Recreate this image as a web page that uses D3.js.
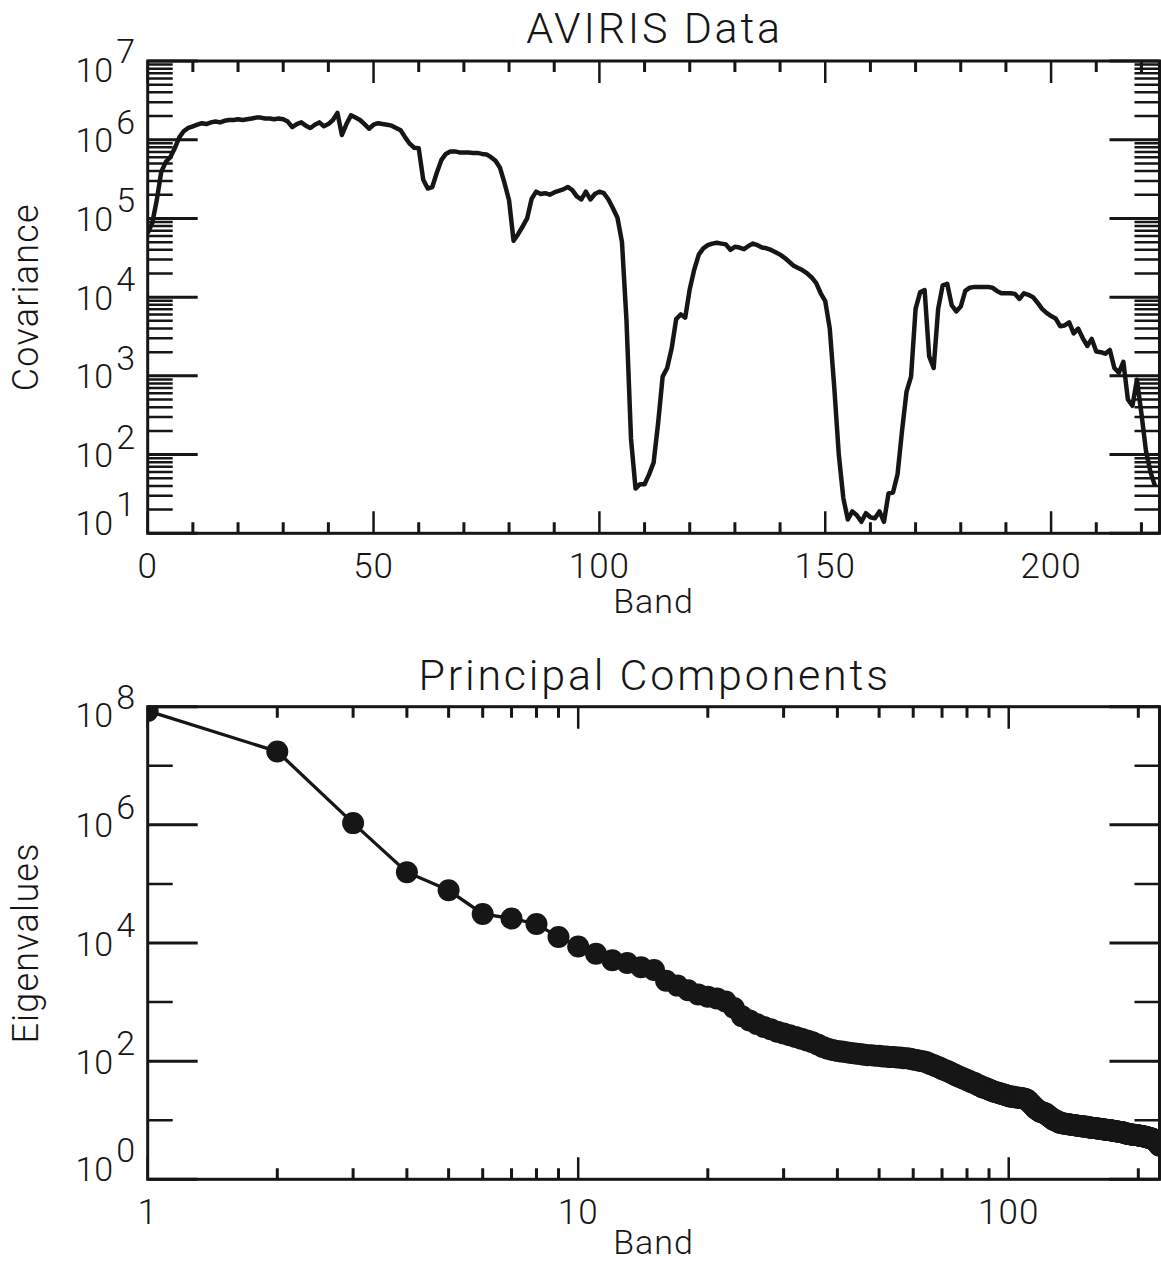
<!DOCTYPE html>
<html>
<head>
<meta charset="utf-8">
<script src="https://cdn.jsdelivr.net/npm/d3@7"></script>
<style>
  html, body { margin: 0; padding: 0; background: #fff; }
  svg text { font-family: Roboto, "DejaVu Sans", sans-serif; font-weight: 300; fill: #161616; }
</style>
</head>
<body>
<div id="chart"></div>
<script>
// ---- data ----
var covBands = d3.range(0, 224);
var covariance = [
  6.5e4, 8.7e4, 1.7e5, 3.9e5, 5.2e5, 6.0e5, 7.8e5, 1.07e6, 1.29e6, 1.41e6,
  1.48e6, 1.55e6, 1.62e6, 1.58e6, 1.66e6, 1.70e6, 1.66e6, 1.74e6, 1.78e6, 1.78e6,
  1.82e6, 1.78e6, 1.82e6, 1.86e6, 1.91e6, 1.91e6, 1.86e6, 1.86e6, 1.82e6, 1.86e6,
  1.82e6, 1.70e6, 1.45e6, 1.58e6, 1.66e6, 1.51e6, 1.41e6, 1.55e6, 1.66e6, 1.48e6,
  1.58e6, 1.78e6, 2.19e6, 1.15e6, 1.58e6, 2.04e6, 1.91e6, 1.78e6, 1.58e6, 1.38e6,
  1.55e6, 1.62e6, 1.58e6, 1.55e6, 1.51e6, 1.41e6, 1.32e6, 1.07e6, 8.9e5, 7.9e5,
  7.8e5, 3.1e5, 2.4e5, 2.5e5, 3.8e5, 5.5e5, 6.6e5, 7.1e5, 7.1e5, 6.9e5,
  6.9e5, 6.9e5, 6.8e5, 6.8e5, 6.6e5, 6.5e5, 6.0e5, 5.4e5, 4.4e5, 2.8e5,
  1.7e5, 5.2e4, 6.3e4, 7.9e4, 1.0e5, 1.78e5, 2.19e5, 2.04e5, 2.09e5, 2.0e5,
  2.14e5, 2.24e5, 2.34e5, 2.51e5, 2.29e5, 1.91e5, 1.74e5, 2.19e5, 1.74e5, 2.04e5,
  2.19e5, 2.09e5, 1.74e5, 1.35e5, 1.02e5, 5.0e4, 5.0e3, 158, 37, 42,
  42, 56, 79, 251, 977, 1.26e3, 2.24e3, 5.25e3, 6.03e3, 5.5e3,
  1.26e4, 2.24e4, 3.47e4, 4.17e4, 4.57e4, 4.79e4, 4.90e4, 4.79e4, 4.68e4, 3.98e4,
  4.37e4, 4.27e4, 4.07e4, 4.47e4, 4.79e4, 4.57e4, 4.27e4, 4.17e4, 3.98e4, 3.72e4,
  3.47e4, 3.16e4, 2.82e4, 2.51e4, 2.34e4, 2.19e4, 2.0e4, 1.78e4, 1.51e4, 1.12e4,
  8.9e3, 3.98e3, 708, 100, 28, 15, 19, 17, 14, 18,
  16, 15.5, 19, 14, 32, 33, 56, 200, 631, 977,
  7.1e3, 1.15e4, 1.23e4, 1.78e3, 1.26e3, 7.1e3, 1.41e4, 1.48e4, 7.9e3, 6.6e3,
  7.6e3, 1.2e4, 1.32e4, 1.35e4, 1.35e4, 1.35e4, 1.35e4, 1.32e4, 1.2e4, 1.12e4,
  1.12e4, 1.12e4, 1.1e4, 9.5e3, 1.12e4, 1.07e4, 1.0e4, 8.5e3, 7.1e3, 6.3e3,
  5.75e3, 5.37e3, 4.27e3, 4.37e3, 4.79e3, 3.47e3, 3.98e3, 3.02e3, 2.4e3, 2.95e3,
  2.04e3, 2.0e3, 1.91e3, 2.14e3, 1.26e3, 1.1e3, 1.51e3, 501, 417, 891,
  331, 112, 60, 40
];

var eigBands = d3.range(1, 225);
var eigenvalues = [
  8.5e7, 1.74e7, 1.07e6, 1.58e5, 7.8e4, 3.1e4, 2.6e4, 2.1e4, 1.26e4, 8.7e3,
  6.6e3, 5.1e3, 4.6e3, 3.9e3, 3.5e3, 2.3e3, 1.9e3, 1.58e3, 1.35e3, 1.23e3,
  1.15e3, 1.02e3, 794, 575, 490, 427, 380, 347, 316, 295,
  275, 257, 240, 224, 209, 191, 174, 162, 155, 148,
  145, 141, 138, 135, 132, 129, 126, 126, 123, 123,
  120, 120, 117, 117, 115, 115, 112, 112, 110, 107,
  105, 102, 100, 98, 93, 89, 85, 81, 78, 74,
  71, 68, 65, 62, 59, 56, 54, 52, 50, 48,
  46, 44, 43, 41, 39, 38, 36, 35.5, 34, 33,
  32, 31, 30, 29.5, 29, 28, 27.5, 27, 26.3, 25.7,
  25.1, 25.1, 24.5, 24.5, 24, 24, 23.7, 23.4, 23.0, 22.4,
  21.4, 20.0, 18.6, 17.4, 16.2, 15.5, 14.8, 14.1, 13.8, 13.5,
  13.2, 12.9, 12.3, 11.7, 11.2, 10.7, 10.2, 10.0, 9.8, 9.5,
  9.2, 9.0, 8.9, 8.8, 8.7, 8.7, 8.6, 8.5, 8.5, 8.4,
  8.3, 8.3, 8.2, 8.1, 8.1, 8.0, 7.9, 7.9, 7.85, 7.8,
  7.8, 7.7, 7.6, 7.6, 7.5, 7.4, 7.4, 7.4, 7.3, 7.3,
  7.25, 7.2, 7.2, 7.1, 7.1, 7.0, 7.0, 6.9, 6.9, 6.85,
  6.8, 6.8, 6.7, 6.7, 6.6, 6.6, 6.5, 6.5, 6.45, 6.4,
  6.4, 6.3, 6.3, 6.2, 6.2, 6.1, 6.0, 5.9, 5.9, 5.85,
  5.8, 5.8, 5.75, 5.7, 5.7, 5.65, 5.6, 5.6, 5.55, 5.5,
  5.5, 5.45, 5.4, 5.4, 5.35, 5.3, 5.3, 5.2, 5.2, 5.1,
  5.1, 5.0, 5.0, 4.9, 4.9, 4.8, 4.7, 4.6, 4.5, 4.4,
  4.3, 4.1, 3.9, 3.7
];

// ---- ticks ----
var covXMajor = [0, 50, 100, 150, 200];
var covXMinor = [10, 20, 30, 40, 60, 70, 80, 90, 110, 120, 130, 140, 160, 170, 180, 190, 210, 220];
var covYMajor = [1e1, 1e2, 1e3, 1e4, 1e5, 1e6, 1e7];
var eigXMajor = [1, 10, 100];
var eigXMinor = [2, 3, 4, 5, 6, 7, 8, 9, 20, 30, 40, 50, 60, 70, 80, 90, 200];
var eigYMajor = [1e0, 1e2, 1e4, 1e6, 1e8];
var eigYMinor = [1e1, 1e3, 1e5, 1e7];

var ink = "#161616";
var left = 147.7, right = 1159.5;

var svg = d3.select("#chart").append("svg")
            .attr("width", 1161)
            .attr("height", 1266);

function drawFrame(g, x, y, o) {
  var x0 = left, x1 = right, y0 = y.range()[0], y1 = y.range()[1];

  // y ticks, left and right
  g.selectAll(".ymaj").data(o.yMajor).enter().append("path")
    .attr("d", function (d) { var yy = y(d);
      return "M" + x0 + "," + yy + "h50M" + x1 + "," + yy + "h-50"; })
    .attr("stroke", ink).attr("stroke-width", 3);
  g.selectAll(".ymin").data(o.yMinor).enter().append("path")
    .attr("d", function (d) { var yy = y(d);
      return "M" + x0 + "," + yy + "h25M" + x1 + "," + yy + "h-25"; })
    .attr("stroke", ink).attr("stroke-width", 2.5);

  // x ticks, bottom and top
  g.selectAll(".xmaj").data(o.xMajor).enter().append("path")
    .attr("d", function (d) { var xx = x(d);
      return "M" + xx + "," + y0 + "v-22M" + xx + "," + y1 + "v22"; })
    .attr("stroke", ink).attr("stroke-width", 2.5);
  g.selectAll(".xmin").data(o.xMinor).enter().append("path")
    .attr("d", function (d) { var xx = x(d);
      return "M" + xx + "," + y0 + "v-11M" + xx + "," + y1 + "v11"; })
    .attr("stroke", ink).attr("stroke-width", 3);

  g.append("rect")
    .attr("x", x0).attr("y", y1)
    .attr("width", x1 - x0).attr("height", y0 - y1)
    .attr("fill", "none").attr("stroke", ink).attr("stroke-width", 3);

  // y labels 10^k
  var n = o.yMajor.length;
  var ylab = g.selectAll(".ylab").data(o.yMajor).enter().append("text")
    .attr("x", 135)
    .attr("y", function (d, i) {
      var off = i === 0 ? 1.5 : (i === n - 1 ? 20.5 : 12.5);
      return y(d) + off; })
    .attr("text-anchor", "end")
    .style("font-size", "34px");
  ylab.append("tspan").text("10");
  ylab.append("tspan")
    .attr("dx", 3).attr("dy", -18.5)
    .text(function (d) { return Math.round(Math.log10(d)); });

  // x labels
  g.selectAll(".xlab").data(o.xMajor).enter().append("text")
    .attr("x", function (d) { return x(d); })
    .attr("y", y0 + 44.5)
    .attr("text-anchor", "middle")
    .style("font-size", "35px")
    .style("letter-spacing", "1px")
    .text(function (d) { return d; });

  g.append("text")
    .attr("x", (x0 + x1) / 2 + 1).attr("y", o.titleY)
    .attr("text-anchor", "middle")
    .style("font-size", "43px")
    .style("letter-spacing", "2.8px")
    .text(o.title);

  g.append("text")
    .attr("x", (x0 + x1) / 2).attr("y", y0 + o.bandDy)
    .attr("text-anchor", "middle")
    .style("font-size", "34px")
    .style("letter-spacing", "1px")
    .text("Band");

  g.append("text")
    .attr("transform", "translate(38," + ((y0 + y1) / 2) + ") rotate(-90)")
    .attr("text-anchor", "middle")
    .style("font-size", "36px")
    .style("letter-spacing", "1.2px")
    .text(o.yTitle);
}

// ---- top panel: AVIRIS Data ----
var x1s = d3.scaleLinear().domain([0, 224]).range([left, right]);
var y1s = d3.scaleLog().domain([10, 1e7]).range([533.3, 61]);

var defs = svg.append("defs");
defs.append("clipPath").attr("id", "clipTop").append("rect")
  .attr("x", left).attr("y", 61).attr("width", right - left).attr("height", 533.3 - 61);
defs.append("clipPath").attr("id", "clipBot").append("rect")
  .attr("x", left).attr("y", 706.7).attr("width", right - left).attr("height", 1179.3 - 706.7);

var gTop = svg.append("g");
gTop.append("path")
  .datum(covBands)
  .attr("clip-path", "url(#clipTop)")
  .attr("d", d3.line()
      .x(function (d, i) { return x1s(d); })
      .y(function (d, i) { return y1s(covariance[i]); }))
  .attr("fill", "none")
  .attr("stroke", ink)
  .attr("stroke-width", 4.5)
  .attr("stroke-linejoin", "round");

drawFrame(gTop, x1s, y1s, {
  yMajor: covYMajor,
  yMinor: y1s.ticks().filter(function (d) { return covYMajor.indexOf(d) < 0; }),
  xMajor: covXMajor, xMinor: covXMinor,
  title: "AVIRIS Data", titleY: 43.3, yTitle: "Covariance", bandDy: 80
});

// ---- bottom panel: Principal Components ----
var x2s = d3.scaleLog().domain([1, 224]).range([left, right]);
var y2s = d3.scaleLog().domain([1, 1e8]).range([1179.3, 706.7]);

var gBot = svg.append("g");
var gData = gBot.append("g").attr("clip-path", "url(#clipBot)");
gData.append("path")
  .datum(eigBands)
  .attr("d", d3.line()
      .x(function (d) { return x2s(d); })
      .y(function (d, i) { return y2s(eigenvalues[i]); }))
  .attr("fill", "none")
  .attr("stroke", ink)
  .attr("stroke-width", 3.3);
gData.selectAll("circle")
  .data(eigBands)
  .enter()
  .append("circle")
  .attr("cx", function (d) { return x2s(d); })
  .attr("cy", function (d, i) { return y2s(eigenvalues[i]); })
  .attr("r", 11)
  .attr("fill", ink);

drawFrame(gBot, x2s, y2s, {
  yMajor: eigYMajor, yMinor: eigYMinor,
  xMajor: eigXMajor, xMinor: eigXMinor,
  title: "Principal Components", titleY: 690, yTitle: "Eigenvalues", bandDy: 75
});
</script>
</body>
</html>
